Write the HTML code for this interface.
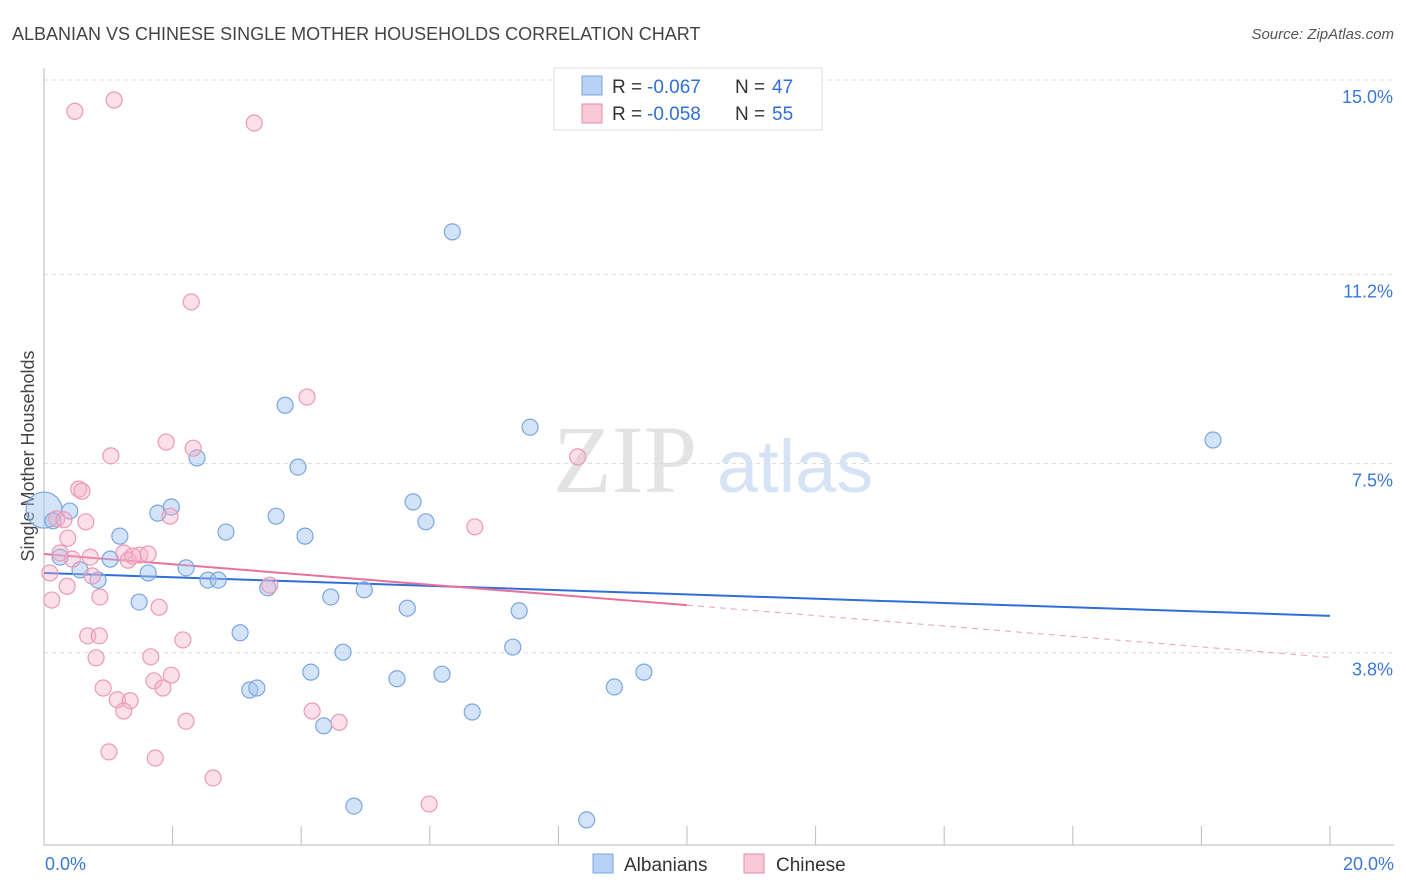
<!DOCTYPE html>
<html><head><meta charset="utf-8"><style>
body{margin:0;background:#fff;font-family:"Liberation Sans",sans-serif}
svg{display:block}
</style></head><body>
<svg id="chart" width="1406" height="892">
<text x="12" y="40" font-size="18" fill="#444">ALBANIAN VS CHINESE SINGLE MOTHER HOUSEHOLDS CORRELATION CHART</text>
<text x="1394" y="39" font-size="15" fill="#555" text-anchor="end" font-style="italic">Source: ZipAtlas.com</text>
<text x="0" y="0" transform="translate(34,456) rotate(-90)" font-size="18" fill="#444" text-anchor="middle">Single Mother Households</text>
<g>
<text x="553" y="492" font-size="96" font-family="Liberation Serif,serif" fill="#e3e3e3">ZIP</text>
<text x="717" y="492" font-size="74" fill="#d6e3f5">atlas</text>
</g>
<g id="grid"></g><g id="axes"></g><g id="lines"></g><g id="pts"></g>
<g>
<rect x="554" y="68" width="268" height="62" fill="#fff" stroke="#ddd"/>
<rect x="582" y="76" width="20" height="19" fill="#b7d2f5" stroke="#7aa6e0"/>
<text x="612" y="93" font-size="19" fill="#333">R =</text>
<text x="647" y="93" font-size="19" fill="#2f6fd6">-0.067</text>
<text x="735" y="93" font-size="19" fill="#333">N =</text>
<text x="772" y="93" font-size="19" fill="#2f6fd6">47</text>
<rect x="582" y="104" width="20" height="19" fill="#f8c8d7" stroke="#e88aa8"/>
<text x="612" y="120" font-size="19" fill="#333">R =</text>
<text x="647" y="120" font-size="19" fill="#2f6fd6">-0.058</text>
<text x="735" y="120" font-size="19" fill="#333">N =</text>
<text x="772" y="120" font-size="19" fill="#2f6fd6">55</text>
</g>
<g>
<rect x="593" y="854" width="20" height="19" fill="#b7d2f5" stroke="#7aa6e0"/>
<text x="624" y="871" font-size="19" fill="#333">Albanians</text>
<rect x="744" y="854" width="20" height="19" fill="#f8c8d7" stroke="#e88aa8"/>
<text x="776" y="871" font-size="19" fill="#333">Chinese</text>
</g>
</svg>
<script>
const yTicks=[15.0,11.2,7.5,3.8];
const yTickLabels=["15.0%","11.2%","7.5%","3.8%"];
const xTickLabels=["0.0%","20.0%"];
const albX=[0.00,0.40,0.25,0.14,1.18,1.03,0.56,0.84,1.62,1.48,1.77,1.98,2.21,2.38,2.55,2.71,2.83,3.05,3.20,3.31,3.48,3.61,3.75,3.95,4.06,4.15,4.35,4.46,4.65,4.82,4.98,5.49,5.65,5.74,5.94,6.19,6.35,6.66,7.29,7.39,7.56,8.44,8.87,9.33,18.18];
const albY=[6.59,6.57,5.67,6.38,6.08,5.63,5.42,5.22,5.36,4.79,6.53,6.65,5.46,7.61,5.22,5.22,6.16,4.19,3.07,3.11,5.07,6.47,8.64,7.43,6.08,3.42,2.37,4.89,3.81,0.80,5.03,3.29,4.67,6.75,6.36,3.38,12.03,2.64,3.91,4.62,8.21,0.53,3.13,3.42,7.96];
const chiX=[0.48,1.09,3.27,2.29,4.09,1.90,1.04,2.32,8.30,0.54,0.59,1.96,0.65,6.70,0.20,0.31,0.37,0.25,0.44,0.72,1.24,1.31,1.49,1.62,1.38,0.09,0.75,0.36,0.12,0.87,1.79,3.51,0.68,0.86,2.16,0.81,1.66,1.98,1.71,0.92,1.85,1.14,1.34,1.24,2.21,4.17,4.59,1.01,1.73,2.63,5.99];
const chiY=[14.39,14.61,14.16,10.66,8.80,7.92,7.65,7.80,7.63,7.00,6.96,6.47,6.36,6.26,6.42,6.40,6.04,5.75,5.63,5.67,5.75,5.61,5.71,5.73,5.69,5.36,5.30,5.10,4.83,4.89,4.69,5.12,4.13,4.13,4.05,3.70,3.72,3.36,3.25,3.11,3.11,2.88,2.86,2.66,2.46,2.66,2.44,1.86,1.74,1.35,0.84];
const albTrend=[5.36,4.52];
const chiTrend=[5.73,4.73,3.71];
const NS="http://www.w3.org/2000/svg";
const sx=v=>44+v/20*1286, sy=v=>847-v*51.13;
function mk(t,a,p){const e=document.createElementNS(NS,t);for(const k in a)e.setAttribute(k,a[k]);document.getElementById(p).appendChild(e);return e;}
yTicks.forEach((t,i)=>{
 const l=mk('line',{x1:44,x2:1394,y1:sy(t),y2:sy(t),stroke:'#ddd','stroke-dasharray':'4,4'},'grid');
 
 
 const tx=mk('text',{x:1393,y:sy(t)+23,'font-size':18,fill:'#3a78d8','text-anchor':'end'},'axes');
 tx.textContent=yTickLabels[i];
 
 
});
const ax=mk('line',{x1:44,x2:44,y1:68,y2:845,stroke:'#bbb'},'axes');


const bx=mk('line',{x1:44,x2:1394,y1:845,y2:845,stroke:'#bbb'},'axes');


for(let i=0;i<=10;i++){const t=mk('line',{x1:sx(i*2),x2:sx(i*2),y1:826,y2:845,stroke:'#bbb'},'axes');
 
 }
[[0,'start',45],[20,'end',1394]].forEach((d,i)=>{const t=mk('text',{x:d[2],y:870,'font-size':18,fill:'#3a78d8','text-anchor':d[1]},'axes');t.textContent=xTickLabels[i];
 
 });
const bl=mk('line',{x1:sx(0),y1:sy(albTrend[0]),x2:sx(20),y2:sy(albTrend[1]),stroke:'#2f6fd6','stroke-width':2},'lines');


const pl=mk('line',{x1:sx(0),y1:sy(chiTrend[0]),x2:sx(10),y2:sy(chiTrend[1]),stroke:'#e8709a','stroke-width':2},'lines');


const pd=mk('line',{x1:sx(10),y1:sy(chiTrend[1]),x2:sx(20),y2:sy(chiTrend[2]),stroke:'#e8a0b8','stroke-width':1,'stroke-dasharray':'6,5'},'lines');


albX.forEach((x,i)=>{const c=mk('circle',{cx:sx(x),cy:sy(albY[i]),r:i==0?18:8,fill:'rgba(160,195,240,0.45)',stroke:'#7aa6e0','stroke-width':1.2},'pts');
 
 });
chiX.forEach((x,i)=>{const c=mk('circle',{cx:sx(x),cy:sy(chiY[i]),r:8,fill:'rgba(245,175,200,0.4)',stroke:'#eb9ab5','stroke-width':1.2},'pts');
 
 });
</script>
</body></html>
